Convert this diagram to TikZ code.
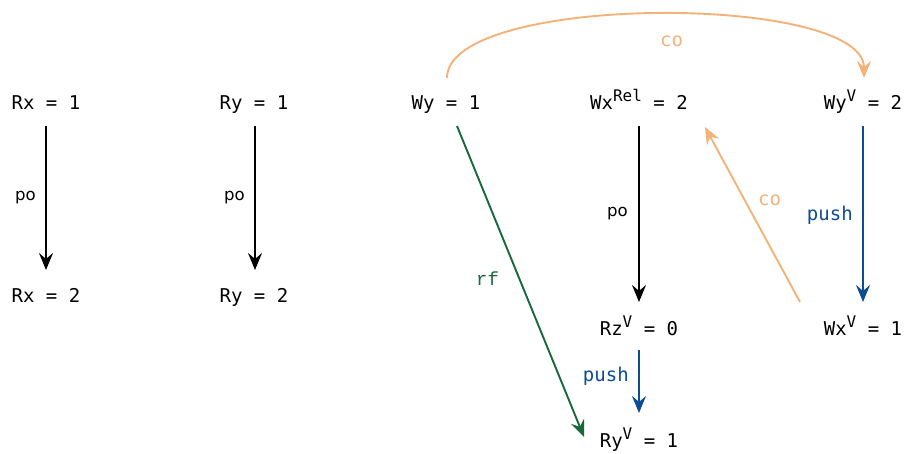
\documentclass[tikz,border=0pt]{standalone}
\usepackage{fontspec}
\setmainfont{DejaVu Sans}
\newfontfamily\evmono{DejaVu Sans Mono}
\newfontfamily\rfmono{Liberation Mono}
\usetikzlibrary{arrows.meta}
\definecolor{coorange}{RGB}{245,178,120}
\definecolor{rfgreen}{RGB}{24,104,60}
\definecolor{pushblue}{RGB}{14,76,146}
\newcommand{\evsup}[1]{\raisebox{0.45em}{\fontsize{16}{16}\selectfont #1}}
\tikzset{
  ev/.style={font=\evmono\fontsize{19}{21}\selectfont, inner sep=0pt, text height=18pt, text depth=2pt},
  rel/.style={line width=1.9pt, -{Stealth[length=17pt,width=14pt,inset=6pt]}},
  po/.style={rel, black},
  pushe/.style={rel, pushblue},
  rfe/.style={rel, rfgreen},
  coe/.style={rel, coorange},
  polab/.style={font=\fontsize{16.5}{18}\selectfont, black},
  pushlab/.style={font=\evmono\fontsize{19}{21}\selectfont, text=pushblue},
  rflab/.style={font=\rfmono\fontsize{19}{21}\selectfont, text=rfgreen},
  colab/.style={font=\evmono\fontsize{19}{21}\selectfont, text=coorange}
}
\begin{document}
\begin{tikzpicture}[x=1pt,y=-1pt]
\useasboundingbox (0,0) rectangle (906,454);
\node[ev] (rx1) at (46,102) {Rx = 1};
\node[ev] (rx2) at (46,295) {Rx = 2};
\node[ev] (ry1) at (254,102) {Ry = 1};
\node[ev] (ry2) at (254,295) {Ry = 2};
\node[ev] (wy1) at (446,102) {Wy = 1};
\node[ev] (wxrel) at (639,102) {Wx\evsup{Rel} = 2};
\node[ev] (wyv) at (863,102) {Wy\evsup{V} = 2};
\node[ev] (rzv) at (639,328) {Rz\evsup{V} = 0};
\node[ev] (wxv) at (863,328) {Wx\evsup{V} = 1};
\node[ev] (ryv) at (639,440) {Ry\evsup{V} = 1};

\draw[po] ([shift={(0,24)}]rx1.center) -- node[polab, left=6pt] {po} ([shift={(0,-25)}]rx2.center);
\draw[po] ([shift={(1,24)}]ry1.center) -- node[polab, left=6pt] {po} ([shift={(1,-25)}]ry2.center);
\draw[po] ([shift={(0,24)}]wxrel.center) -- node[polab, left=7pt] {po} ([shift={(0,-26)}]rzv.center);
\draw[pushe] ([shift={(0,24)}]wyv.center) -- node[pushlab, left=6pt, pos=0.51] {push} ([shift={(0,-26)}]wxv.center);
\draw[pushe] ([shift={(0,22)}]rzv.center) -- node[pushlab, left=6pt, pos=0.42] {push} ([shift={(0,-27)}]ryv.center);
\draw[rfe] ([shift={(11,24)}]wy1.center) -- node[rflab, pos=0.49, left=16pt] {rf} ([shift={(-55,-3)}]ryv.center);
\draw[coe] ([shift={(-63,-26)}]wxv.center) -- node[colab, pos=0.58, right=9pt] {co} ([shift={(66,25)}]wxrel.center);
\draw[coe] ([shift={(1,-24)}]wy1.center) .. controls (447,-7) and (864,-7) .. node[colab, pos=0.5, below=17pt, xshift=16pt] {co} ([shift={(1,-24)}]wyv.center);
\end{tikzpicture}
\end{document}
